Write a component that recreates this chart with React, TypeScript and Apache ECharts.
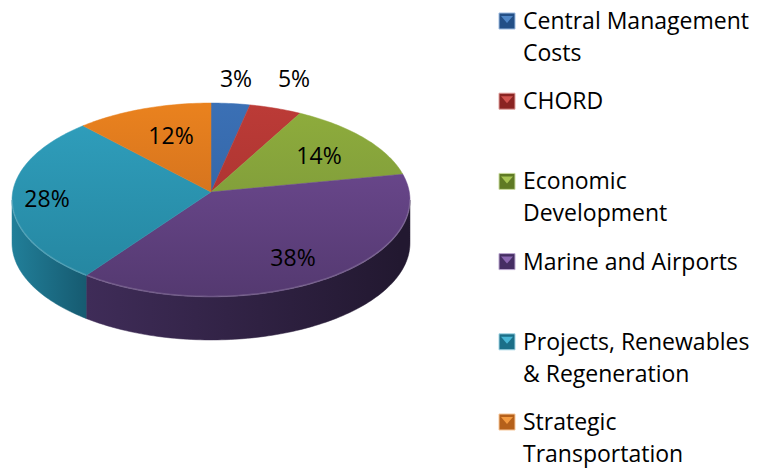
import React, { useEffect, useRef } from "react";
import * as echarts from "echarts";

const categories = [
  "Central Management\nCosts",
  "CHORD",
  "Economic\nDevelopment",
  "Marine and Airports",
  "Projects, Renewables\n& Regeneration",
  "Strategic\nTransportation",
];
const values = [3.4, 4.6, 14, 38, 28, 12];

const topStops = [
  ["#3B70B5", "#2D5E9C"],
  ["#BC3B37", "#9F2F2C"],
  ["#8FAD3C", "#74903A"],
  ["#734D98", "#543970"],
  ["#30A0BE", "#24849E"],
  ["#EA821E", "#C0651F"],
];
const sideStops = [
  ["#24497A", "#1B3860"],
  ["#7C2624", "#5F1C1B"],
  ["#5B7228", "#45561E"],
  ["#3F2C58", "#221830"],
  ["#217F99", "#165A70"],
  ["#A85A14", "#7E430F"],
];
const markerStops = [
  ["#234F86", "#4F86C6", "#9DBBE0"],
  ["#8A2422", "#D0524E", "#E0A09D"],
  ["#5F7A24", "#A6C452", "#CBDCA0"],
  ["#452E63", "#8A66B0", "#BBA7D0"],
  ["#1B6F88", "#48B6D4", "#A0D4E4"],
  ["#B5601A", "#F39A40", "#F7C79A"],
];

const CX = 211;
const CY = 192;
const A = 198.3;
const B = 96.3;
const K = 0.0825;
const DEPTH = 43;
const EDGE = Math.acos(-K);
const FONT = "'Open Sans', 'Noto Sans', sans-serif";
const FONT_SIZE = 23;
const LABEL_XY: [number, number][] = [
  [236, 78],
  [294, 78],
  [319, 155],
  [293, 257],
  [47, 198],
  [171, 135],
];
const LEGEND_X = 499;
const LEGEND_TOP = 13;
const LEGEND_STEP = 80.2;

const project = (t: number, dy = 0): [number, number] => {
  const w = 1 + K * Math.cos(t);
  return [CX + (A * Math.sin(t)) / w, CY - (B * Math.cos(t)) / w + dy];
};

const arcPoints = (t0: number, t1: number, dy = 0) => {
  const n = Math.max(2, Math.ceil(Math.abs(t1 - t0) / 0.02));
  const pts: [number, number][] = [];
  for (let i = 0; i <= n; i++) pts.push(project(t0 + ((t1 - t0) * i) / n, dy));
  return pts;
};

const total = values.reduce((s, v) => s + v, 0);

const renderSlice = (params: any, api: any) => {
  const i = params.dataIndex;
  const before = values.slice(0, i).reduce((s, v) => s + v, 0);
  const t0 = (before / total) * Math.PI * 2;
  const t1 = t0 + (api.value(0) / total) * Math.PI * 2;
  const children: any[] = [];

  const s0 = Math.max(t0, EDGE);
  const s1 = Math.min(t1, Math.PI * 2 - EDGE);
  if (s1 > s0) {
    const side = new echarts.graphic.LinearGradient(
      i === 3 ? 400 : 87,
      0,
      i === 3 ? 87 : 12,
      0,
      [
        { offset: 0, color: sideStops[i][1] },
        { offset: 1, color: sideStops[i][0] },
      ],
      true
    );
    children.push({
      type: "polygon",
      shape: { points: [...arcPoints(s0, s1), ...arcPoints(s1, s0, DEPTH)] },
      style: { fill: side, stroke: side, lineWidth: 0.5 },
    });
  }

  const top = new echarts.graphic.LinearGradient(
    0,
    103,
    0,
    297,
    [
      { offset: 0, color: topStops[i][0] },
      { offset: 1, color: topStops[i][1] },
    ],
    true
  );
  children.push({
    type: "polygon",
    shape: { points: [[CX, CY], ...arcPoints(t0, t1)] },
    style: { fill: top, stroke: top, lineWidth: 0.5 },
  });

  if (s1 > s0) {
    children.push({
      type: "polyline",
      shape: { points: arcPoints(s0, s1, -0.5) },
      style: { fill: "none", stroke: "rgba(255,255,255,0.16)", lineWidth: 1.6 },
    });
  }

  children.push({
    type: "text",
    x: LABEL_XY[i][0],
    y: LABEL_XY[i][1],
    style: {
      text: `${Math.round(api.value(0))}%`,
      fontFamily: FONT,
      fontSize: FONT_SIZE,
      fill: "#000",
      align: "center",
      verticalAlign: "middle",
    },
  });
  return { type: "group", children };
};

const legendGraphics = categories.flatMap((name, i) => {
  const y = LEGEND_TOP + LEGEND_STEP * i;
  const [dark, mid, light] = markerStops[i];
  return [
    {
      type: "rect",
      shape: { x: LEGEND_X, y, width: 16, height: 16 },
      style: { fill: dark, stroke: light, lineWidth: 1 },
    },
    {
      type: "polygon",
      shape: {
        points: [
          [LEGEND_X + 2, y + 3],
          [LEGEND_X + 14, y + 3],
          [LEGEND_X + 8, y + 10],
        ],
      },
      style: { fill: mid },
    },
    {
      type: "text",
      x: 523,
      y: y - 9,
      style: {
        text: name,
        fontFamily: FONT,
        fontSize: FONT_SIZE,
        lineHeight: 32,
        fill: "#000",
        align: "left",
        verticalAlign: "top",
      },
    },
  ];
});

export default function App() {
  const ref = useRef<HTMLDivElement>(null);
  useEffect(() => {
    const chart = echarts.init(ref.current!, undefined, { renderer: "svg" });
    chart.setOption({
      animation: false,
      backgroundColor: "#fff",
      graphic: legendGraphics,
      series: [
        {
          type: "custom",
          coordinateSystem: "none",
          renderItem: renderSlice,
          data: values.map((v, i) => ({ name: categories[i], value: [v] })),
          encode: { value: 0 },
        },
      ],
    });
    return () => chart.dispose();
  }, []);
  return <div ref={ref} style={{ position: "fixed", left: 0, top: 0, width: 757, height: 469 }} />;
}
